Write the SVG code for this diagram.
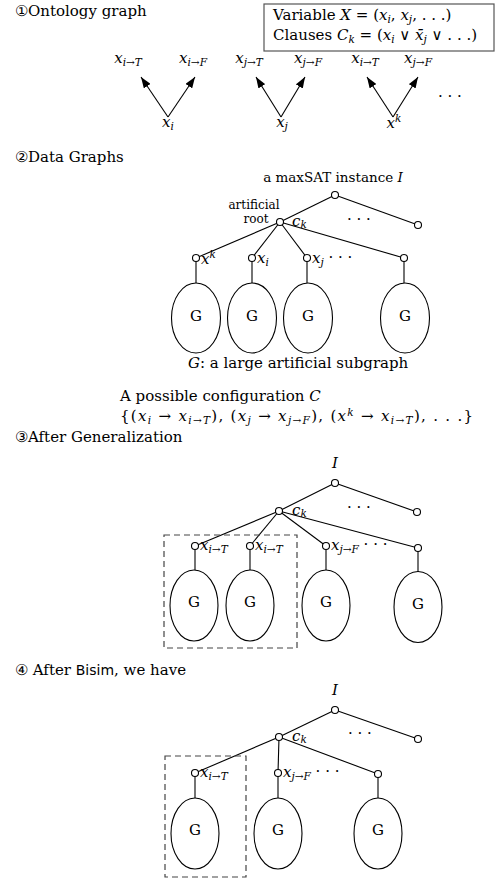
<svg xmlns="http://www.w3.org/2000/svg" width="500" height="880" viewBox="0 0 500 880">
<style>
.t{font-family:"DejaVu Serif","Liberation Serif",serif;font-size:15px;fill:#000}
.sm{font-size:12px}
.md{font-size:13.5px}
.i{font-style:italic}
.s{font-size:10.5px}
.ss{font-family:"DejaVu Sans","Liberation Sans",sans-serif;font-size:14px}
.ln{stroke:#000;stroke-width:1.1;fill:none}
.nd{fill:#fff;stroke:#000;stroke-width:1.1}
.el{fill:none;stroke:#000;stroke-width:1.1}
.box{fill:none;stroke:#444;stroke-width:1.2;stroke-dasharray:6 4}
.c{text-anchor:middle}
</style>
<defs>
<marker id="ah" markerWidth="11" markerHeight="8" refX="11" refY="4" orient="auto" markerUnits="userSpaceOnUse"><path d="M0,0 L11,4 L0,8 z" fill="#000"/></marker>
</defs>

<!-- Section 1 -->
<text class="t" x="15" y="16">①Ontology graph</text>
<g id="legend">
<rect x="264" y="4" width="230" height="47" fill="#fff" stroke="#555" stroke-width="1.2"/>
<text class="t" x="273" y="20">Variable <tspan class="i">X</tspan> = (<tspan class="i">x</tspan><tspan class="s i" dy="3">i</tspan><tspan dy="-3">, </tspan><tspan class="i">x</tspan><tspan class="s i" dy="3">j</tspan><tspan dy="-3">, . . .)</tspan></text>
<text class="t" x="273" y="40">Clauses  <tspan class="i">C</tspan><tspan class="s i" dy="3">k</tspan><tspan dy="-3"> = (</tspan><tspan class="i">x</tspan><tspan class="s i" dy="3">i</tspan><tspan dy="-3"> ∨ </tspan><tspan class="i">x̄</tspan><tspan class="s i" dy="3">j</tspan><tspan dy="-3"> ∨ . . .)</tspan></text>
</g>
<g id="onto-xi">
<text class="t c" x="128" y="63"><tspan class="i">x</tspan><tspan class="s" dy="3"><tspan class="i">i</tspan>→<tspan class="i">T</tspan></tspan></text>
<text class="t c" x="193" y="63"><tspan class="i">x</tspan><tspan class="s" dy="3"><tspan class="i">i</tspan>→<tspan class="i">F</tspan></tspan></text>
<text class="t c" x="168" y="127"><tspan class="i">x</tspan><tspan class="s i" dy="3">i</tspan></text>
</g>
<g id="onto-xj">
<text class="t c" x="249" y="63"><tspan class="i">x</tspan><tspan class="s" dy="3"><tspan class="i">j</tspan>→<tspan class="i">T</tspan></tspan></text>
<text class="t c" x="308" y="63"><tspan class="i">x</tspan><tspan class="s" dy="3"><tspan class="i">j</tspan>→<tspan class="i">F</tspan></tspan></text>
<text class="t c" x="282" y="127"><tspan class="i">x</tspan><tspan class="s i" dy="3">j</tspan></text>
</g>
<g id="onto-xk">
<text class="t c" x="365" y="63"><tspan class="i">x</tspan><tspan class="s" dy="3"><tspan class="i">i</tspan>→<tspan class="i">T</tspan></tspan></text>
<text class="t c" x="418" y="63"><tspan class="i">x</tspan><tspan class="s" dy="3"><tspan class="i">j</tspan>→<tspan class="i">F</tspan></tspan></text>
<text class="t c" x="394" y="128"><tspan class="i">x</tspan><tspan class="s i" dy="-6">k</tspan></text>
<text class="t" x="438" y="97">. . .</text>
</g>
<g id="onto-edges">
<line class="ln" x1="168" y1="117" x2="141" y2="77" marker-end="url(#ah)"/>
<line class="ln" x1="168" y1="117" x2="195" y2="77" marker-end="url(#ah)"/>
<line class="ln" x1="281" y1="117" x2="256" y2="77" marker-end="url(#ah)"/>
<line class="ln" x1="281" y1="117" x2="305" y2="77" marker-end="url(#ah)"/>
<line class="ln" x1="393" y1="117" x2="367" y2="77" marker-end="url(#ah)"/>
<line class="ln" x1="393" y1="117" x2="418" y2="77" marker-end="url(#ah)"/>
</g>

<!-- Section 2 -->
<text class="t" x="15" y="162">②Data Graphs</text>
<g id="s2-edges">
<line class="ln" x1="335" y1="195" x2="280" y2="222"/>
<line class="ln" x1="335" y1="195" x2="418" y2="225"/>
<line class="ln" x1="280" y1="222" x2="196" y2="258"/>
<line class="ln" x1="280" y1="222" x2="252" y2="258"/>
<line class="ln" x1="280" y1="222" x2="307" y2="258"/>
<line class="ln" x1="280" y1="222" x2="404" y2="258"/>
<line class="ln" x1="196" y1="258" x2="196" y2="283"/>
<line class="ln" x1="252" y1="258" x2="252" y2="283"/>
<line class="ln" x1="307" y1="258" x2="307" y2="283"/>
<line class="ln" x1="404" y1="258" x2="404" y2="283"/>
</g>
<g id="s2-root">
<text class="t md" x="333" y="182" text-anchor="middle">a maxSAT instance <tspan class="i">I</tspan></text>
<circle class="nd" cx="335" cy="195" r="3.5"/>
</g>
<g id="s2-ck">
<circle class="nd" cx="280" cy="222" r="3.5"/>
<text class="t sm c" x="254" y="209">artificial</text>
<text class="t sm c" x="256" y="223">root</text>
<text class="t i" x="292" y="226">c<tspan class="s" dy="2">k</tspan></text>
<text class="t" x="347" y="224">· · ·</text>
</g>
<g id="s2-right"><circle class="nd" cx="418" cy="225" r="3.5"/></g>
<g id="s2-c1"><circle class="nd" cx="196" cy="258" r="3.5"/><text class="t" x="201" y="264"><tspan class="i">x</tspan><tspan class="s i" dy="-6">k</tspan></text><ellipse class="el" cx="196" cy="318" rx="24.5" ry="35"/><text class="t c" x="196" y="321">G</text></g>
<g id="s2-c2"><circle class="nd" cx="252" cy="258" r="3.5"/><text class="t" x="257" y="263"><tspan class="i">x</tspan><tspan class="s i" dy="3">i</tspan></text><ellipse class="el" cx="252" cy="318" rx="24.5" ry="35"/><text class="t c" x="252" y="321">G</text></g>
<g id="s2-c3"><circle class="nd" cx="307" cy="258" r="3.5"/><text class="t" x="312" y="263"><tspan class="i">x</tspan><tspan class="s i" dy="3">j</tspan><tspan dy="-4"> · · ·</tspan></text><ellipse class="el" cx="308" cy="318" rx="24.5" ry="35"/><text class="t c" x="308" y="321">G</text></g>
<g id="s2-c4"><circle class="nd" cx="404" cy="258" r="3.5"/><ellipse class="el" cx="405" cy="318" rx="24.5" ry="35"/><text class="t c" x="405" y="321">G</text></g>
<text class="t" x="188" y="368"><tspan class="i">G</tspan>: a large artificial subgraph</text>
<text class="t" x="120" y="401">A possible configuration <tspan class="i">C</tspan></text>
<text class="t" x="120" y="421" letter-spacing="1.3">{(<tspan class="i">x</tspan><tspan class="s i" dy="2.5">i</tspan><tspan dy="-2.5"> → </tspan><tspan class="i">x</tspan><tspan class="s i" dy="2.5">i</tspan><tspan class="s">→</tspan><tspan class="s i">T</tspan><tspan dy="-2.5">), (</tspan><tspan class="i">x</tspan><tspan class="s i" dy="2.5">j</tspan><tspan dy="-2.5"> → </tspan><tspan class="i">x</tspan><tspan class="s i" dy="2.5">j</tspan><tspan class="s">→</tspan><tspan class="s i">F</tspan><tspan dy="-2.5">), (</tspan><tspan class="i">x</tspan><tspan class="s i" dy="-5">k</tspan><tspan dy="5"> → </tspan><tspan class="i">x</tspan><tspan class="s i" dy="2.5">i</tspan><tspan class="s">→</tspan><tspan class="s i">T</tspan><tspan dy="-2.5">), . . .}</tspan></text>

<!-- Section 3 -->
<text class="t" x="15" y="442">③After Generalization</text>
<g id="s3-edges">
<line class="ln" x1="335" y1="483" x2="279" y2="511"/>
<line class="ln" x1="335" y1="483" x2="417" y2="512"/>
<line class="ln" x1="279" y1="511" x2="195" y2="546"/>
<line class="ln" x1="279" y1="511" x2="250" y2="546"/>
<line class="ln" x1="279" y1="511" x2="326" y2="546"/>
<line class="ln" x1="279" y1="511" x2="418" y2="548"/>
<line class="ln" x1="195" y1="546" x2="195" y2="570"/>
<line class="ln" x1="250" y1="546" x2="250" y2="570"/>
<line class="ln" x1="326" y1="546" x2="326" y2="570"/>
<line class="ln" x1="418" y1="548" x2="418" y2="572"/>
</g>
<rect class="box" x="164" y="535" width="133" height="113"/>
<g id="s3-root"><text class="t i c" x="335" y="468">I</text><circle class="nd" cx="335" cy="483" r="3.5"/></g>
<g id="s3-ck"><circle class="nd" cx="279" cy="511" r="3.5"/><text class="t i" x="292" y="515">c<tspan class="s" dy="2">k</tspan></text><text class="t" x="347" y="512">· · ·</text></g>
<g id="s3-right"><circle class="nd" cx="417" cy="512" r="3.5"/></g>
<g id="s3-c1"><circle class="nd" cx="195" cy="546" r="3.5"/><text class="t" x="200" y="550"><tspan class="i">x</tspan><tspan class="s" dy="3"><tspan class="i">i</tspan>→<tspan class="i">T</tspan></tspan></text><ellipse class="el" cx="194" cy="605.5" rx="24" ry="35.5"/><text class="t c" x="194" y="607">G</text></g>
<g id="s3-c2"><circle class="nd" cx="250" cy="546" r="3.5"/><text class="t" x="255" y="550"><tspan class="i">x</tspan><tspan class="s" dy="3"><tspan class="i">i</tspan>→<tspan class="i">T</tspan></tspan></text><ellipse class="el" cx="250" cy="605.5" rx="24" ry="35.5"/><text class="t c" x="250" y="607">G</text></g>
<g id="s3-c3"><circle class="nd" cx="326" cy="546" r="3.5"/><text class="t" x="331" y="550"><tspan class="i">x</tspan><tspan class="s" dy="3"><tspan class="i">j</tspan>→<tspan class="i">F</tspan></tspan><tspan dy="-4">  · · ·</tspan></text><ellipse class="el" cx="326" cy="605.5" rx="24" ry="35.5"/><text class="t c" x="326" y="607">G</text></g>
<g id="s3-c4"><circle class="nd" cx="418" cy="548" r="3.5"/><ellipse class="el" cx="418" cy="607" rx="24" ry="35.5"/><text class="t c" x="418" y="609">G</text></g>

<!-- Section 4 -->
<text class="t" x="15" y="675">④ After <tspan class="ss">Bisim</tspan>, we have</text>
<g id="s4-edges">
<line class="ln" x1="335" y1="710" x2="279" y2="737"/>
<line class="ln" x1="335" y1="710" x2="418" y2="739"/>
<line class="ln" x1="279" y1="737" x2="195" y2="773"/>
<line class="ln" x1="279" y1="737" x2="278" y2="773"/>
<line class="ln" x1="279" y1="737" x2="378" y2="774"/>
<line class="ln" x1="195" y1="773" x2="195" y2="798"/>
<line class="ln" x1="278" y1="773" x2="278" y2="798"/>
<line class="ln" x1="378" y1="774" x2="378" y2="798"/>
</g>
<rect class="box" x="165" y="756" width="81" height="121"/>
<g id="s4-root"><text class="t i c" x="335" y="695">I</text><circle class="nd" cx="335" cy="710" r="3.5"/></g>
<g id="s4-ck"><circle class="nd" cx="279" cy="737" r="3.5"/><text class="t i" x="292" y="741">c<tspan class="s" dy="2">k</tspan></text><text class="t" x="348" y="738">· · ·</text></g>
<g id="s4-right"><circle class="nd" cx="418" cy="739" r="3.5"/></g>
<g id="s4-c1"><circle class="nd" cx="195" cy="773" r="3.5"/><text class="t" x="200" y="777"><tspan class="i">x</tspan><tspan class="s" dy="3"><tspan class="i">i</tspan>→<tspan class="i">T</tspan></tspan></text><ellipse class="el" cx="195" cy="833.5" rx="24" ry="35.5"/><text class="t c" x="195" y="835">G</text></g>
<g id="s4-c2"><circle class="nd" cx="278" cy="773" r="3.5"/><text class="t" x="283" y="777"><tspan class="i">x</tspan><tspan class="s" dy="3"><tspan class="i">j</tspan>→<tspan class="i">F</tspan></tspan><tspan dy="-4">  · · ·</tspan></text><ellipse class="el" cx="278" cy="833.5" rx="24" ry="35.5"/><text class="t c" x="278" y="835">G</text></g>
<g id="s4-c3"><circle class="nd" cx="378" cy="774" r="3.5"/><ellipse class="el" cx="378" cy="833.5" rx="24" ry="35.5"/><text class="t c" x="378" y="835">G</text></g>
</svg>
